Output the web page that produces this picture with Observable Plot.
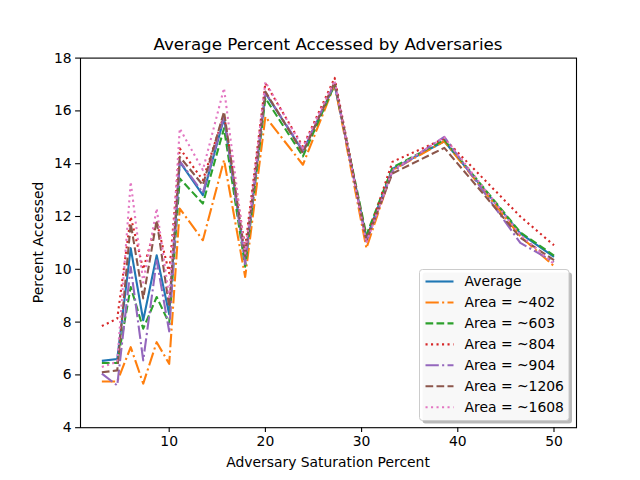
<!DOCTYPE html>
<html>
<head>
<meta charset="utf-8">
<script src="https://cdn.jsdelivr.net/npm/d3@7"></script>
<script src="https://cdn.jsdelivr.net/npm/@observablehq/plot@0.6"></script>
<style>
  html, body { margin: 0; padding: 0; background: #fff; }
  #chart { width: 640px; height: 480px; }
  svg { font-family: "DejaVu Sans", sans-serif; }
</style>
</head>
<body>
<div id="chart"></div>
<script>
const saturation = [3.0, 4.6, 6.0, 7.3, 8.7, 10.0, 11.1, 13.5, 15.7, 17.9, 20.0, 23.9, 27.2, 30.5, 33.2, 38.6, 46.5, 50.0];

const average  = [6.53, 6.60, 10.80, 8.07, 10.53, 8.30, 14.07, 12.81, 15.72, 10.34, 16.67, 14.47, 17.00, 11.18, 13.80, 14.85, 11.36, 10.47];
const area402  = [5.75, 5.75, 7.05, 5.67, 7.24, 6.42, 12.30, 11.10, 14.14, 9.71, 15.78, 13.96, 17.00, 10.80, 13.75, 14.85, 11.25, 10.12];
const area603  = [6.45, 6.45, 9.33, 7.75, 8.95, 7.95, 13.44, 12.49, 15.34, 10.10, 16.48, 14.28, 17.00, 11.30, 13.85, 14.90, 11.40, 10.52];
const area804  = [7.85, 8.13, 11.99, 10.00, 11.80, 9.85, 14.58, 13.38, 15.85, 10.85, 17.05, 14.65, 17.25, 11.10, 14.07, 14.95, 12.00, 10.91];
const area904  = [6.05, 5.60, 10.09, 6.55, 10.34, 7.65, 14.10, 12.90, 15.80, 10.20, 16.70, 14.50, 17.05, 11.05, 13.70, 15.02, 11.00, 10.28];
const area1206 = [6.10, 6.17, 11.73, 8.90, 11.86, 8.57, 14.26, 13.19, 15.97, 10.50, 16.73, 14.40, 17.10, 11.10, 13.63, 14.60, 11.20, 10.35];
const area1608 = [6.30, 6.50, 13.31, 9.50, 12.30, 8.95, 15.33, 13.76, 16.86, 10.60, 17.10, 14.60, 17.15, 11.00, 13.75, 15.00, 11.30, 10.20];

const seriesNames = ["Average", "Area = ~402", "Area = ~603", "Area = ~804", "Area = ~904", "Area = ~1206", "Area = ~1608"];
const seriesValues = [average, area402, area603, area804, area904, area1206, area1608];
const seriesColors = ["#1f77b4", "#ff7f0e", "#2ca02c", "#d62728", "#9467bd", "#8c564b", "#e377c2"];
const seriesDash = [null, "13.3,3.3,2.1,3.3", "7.7,3.3", "2.1,3.4", "13.3,3.3,2.1,3.3", "7.7,3.3", "2.1,3.4"];

const xTicks = [10, 20, 30, 40, 50];
const yTicks = [4, 6, 8, 10, 12, 14, 16, 18];

const titleText = "Average Percent Accessed by Adversaries";
const xLabel = "Adversary Saturation Percent";
const yLabel = "Percent Accessed";

const series = seriesNames.map((name, i) => ({
  name, color: seriesColors[i], dash: seriesDash[i],
  rows: saturation.map((x, j) => ({x, y: seriesValues[i][j], name}))
}));

const W = 640, H = 480;
const mL = 80, mR = 64, mT = 57.6, mB = 52.8;

const chart = Plot.plot({
  width: W, height: H,
  marginLeft: mL, marginRight: mR, marginTop: mT, marginBottom: mB,
  style: {fontFamily: "DejaVu Sans, sans-serif", fontSize: "13.9px", color: "#000", background: "#fff"},
  x: {domain: [0.78, 52.34]},
  y: {domain: [4, 18]},
  marks: [
    Plot.axisX(xTicks, {tickSize: 4.9, tickPadding: 4, fontSize: 13.9, label: null, stroke: "#000", strokeWidth: 1.1}),
    Plot.axisY(yTicks, {tickSize: 4.9, tickPadding: 4, fontSize: 13.9, label: null, stroke: "#000", strokeWidth: 1.1}),
    ...series.map(s => Plot.line(s.rows, {
      x: "x", y: "y", stroke: s.color, strokeWidth: 2.1,
      strokeDasharray: s.dash || undefined, strokeLinejoin: "round", strokeLinecap: "butt"
    })),
    Plot.frame({stroke: "#000", strokeWidth: 1.1})
  ]
});

document.getElementById("chart").appendChild(chart);

const svg = d3.select(chart);
// Title and axis labels
svg.append("text").attr("x", mL + (W - mL - mR) / 2).attr("y", 50)
  .attr("text-anchor", "middle").attr("font-size", 16.7).attr("fill", "#000").text(titleText);
svg.append("text").attr("x", mL + (W - mL - mR) / 2).attr("y", 467)
  .attr("text-anchor", "middle").attr("font-size", 13.9).attr("fill", "#000").text(xLabel);
svg.append("text").attr("transform", `translate(43,${mT + (H - mT - mB) / 2}) rotate(-90)`)
  .attr("text-anchor", "middle").attr("font-size", 13.9).attr("fill", "#000").text(yLabel);

// Legend (lower right, with shadow)
const lx = 419.5, ly = 269.5, lw = 149.5, lh = 151;
const lg = svg.append("g").attr("text-anchor", "start");
lg.append("rect").attr("x", lx + 3).attr("y", ly + 3).attr("width", lw).attr("height", lh)
  .attr("rx", 3).attr("fill", "#808080").attr("opacity", 0.55);
lg.append("rect").attr("x", lx).attr("y", ly).attr("width", lw).attr("height", lh)
  .attr("rx", 3).attr("fill", "#fff").attr("fill-opacity", 0.9).attr("stroke", "#cccccc").attr("stroke-width", 1);
series.forEach((s, i) => {
  const yy = ly + 12 + i * 20.95;
  lg.append("line").attr("x1", lx + 6).attr("x2", lx + 34).attr("y1", yy).attr("y2", yy)
    .attr("stroke", s.color).attr("stroke-width", 2.1)
    .attr("stroke-dasharray", s.dash || null);
  lg.append("text").attr("x", lx + 45).attr("y", yy).attr("dy", "0.35em")
    .attr("text-anchor", "start")
    .attr("font-size", 13.9).attr("fill", "#000").text(s.name);
});
</script>
</body>
</html>
